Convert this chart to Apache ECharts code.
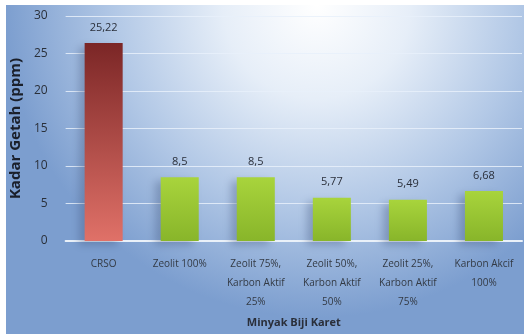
<!DOCTYPE html>
<html><head><meta charset="utf-8">
<script src="https://cdn.jsdelivr.net/npm/echarts@6/dist/echarts.min.js"></script>
<style>html,body{margin:0;padding:0;background:#fff;}#c{width:524px;height:334px;}</style>
</head><body><div id="c"></div>
<script>
const categories = ['CRSO', 'Zeolit 100%', 'Zeolit 75%,\nKarbon Aktif\n25%', 'Zeolit 50%,\nKarbon Aktif\n50%', 'Zeolit 25%,\nKarbon Aktif\n75%', 'Karbon Akcif\n100%'];
const barHeights = [26.4, 8.5, 8.5, 5.77, 5.49, 6.68];
const valueLabels = ['25,22', '8,5', '8,5', '5,77', '5,49', '6,68'];
const yTicks = [0, 5, 10, 15, 20, 25, 30];

const redGrad = new echarts.graphic.LinearGradient(0,0,0,1,[{offset:0,color:'#7b2626'},{offset:1,color:'#e07168'}]);
const greenGrad = new echarts.graphic.LinearGradient(0,0,0,1,[{offset:0,color:'#a8d43c'},{offset:1,color:'#88b52a'}]);

const chart = echarts.init(document.getElementById('c'));
chart.setOption({
  backgroundColor: '#ffffff',
  graphic: [{
    type: 'rect', left: 6, top: 5, z: -100, silent: true,
    shape: {width: 518, height: 329},
    style: {fill: new echarts.graphic.RadialGradient(0.6, 0.0, 0.95, [
      {offset:0, color:'#ffffff'},
      {offset:0.3, color:'#e6eef8'},
      {offset:0.65, color:'#b2c8e6'},
      {offset:1, color:'#7c9ecf'}
    ])}
  }],
  grid: {left: 60, right: 2, top: 16, bottom: 93},
  xAxis: {
    type: 'category',
    data: categories,
    name: 'Minyak Biji Karet',
    nameLocation: 'middle',
    nameGap: 72,
    nameTextStyle: {fontFamily: 'Open Sans', fontSize: 11, fontWeight: 'bold', color: '#2a2f3a'},
    axisLine: {lineStyle: {color: '#eaf1f9', width: 2}},
    axisTick: {show: false},
    axisLabel: {fontFamily: 'Open Sans', fontSize: 10, color: '#333a44', lineHeight: 19, margin: 14, interval: 0}
  },
  yAxis: {
    type: 'value',
    min: 0, max: 30, interval: 5,
    name: 'Kadar Getah (ppm)',
    nameLocation: 'middle',
    nameGap: 31,
    nameTextStyle: {fontFamily: 'Open Sans', fontSize: 15, fontWeight: 'bold', color: '#1a1f2a'},
    axisLine: {show: false},
    axisTick: {show: false},
    axisLabel: {fontFamily: 'Open Sans', fontSize: 12, color: '#2a303a', margin: 18,
      formatter: v => yTicks.includes(v) ? String(v) : ''},
    splitLine: {lineStyle: {color: 'rgba(232,240,250,0.85)', width: 1.2}}
  },
  series: [{
    type: 'bar',
    data: barHeights.map((v, i) => ({value: v, itemStyle: {color: i === 0 ? redGrad : greenGrad}})),
    barWidth: '50%',
    barGap: 0,
    itemStyle: {shadowColor: 'rgba(60,80,120,0.35)', shadowBlur: 8, shadowOffsetX: -6, shadowOffsetY: 4},
    label: {show: true, position: 'top', distance: 10, fontFamily: 'Open Sans', fontSize: 11, color: '#2a2f3a',
      formatter: p => valueLabels[p.dataIndex]}
  }]
});
</script></body></html>
